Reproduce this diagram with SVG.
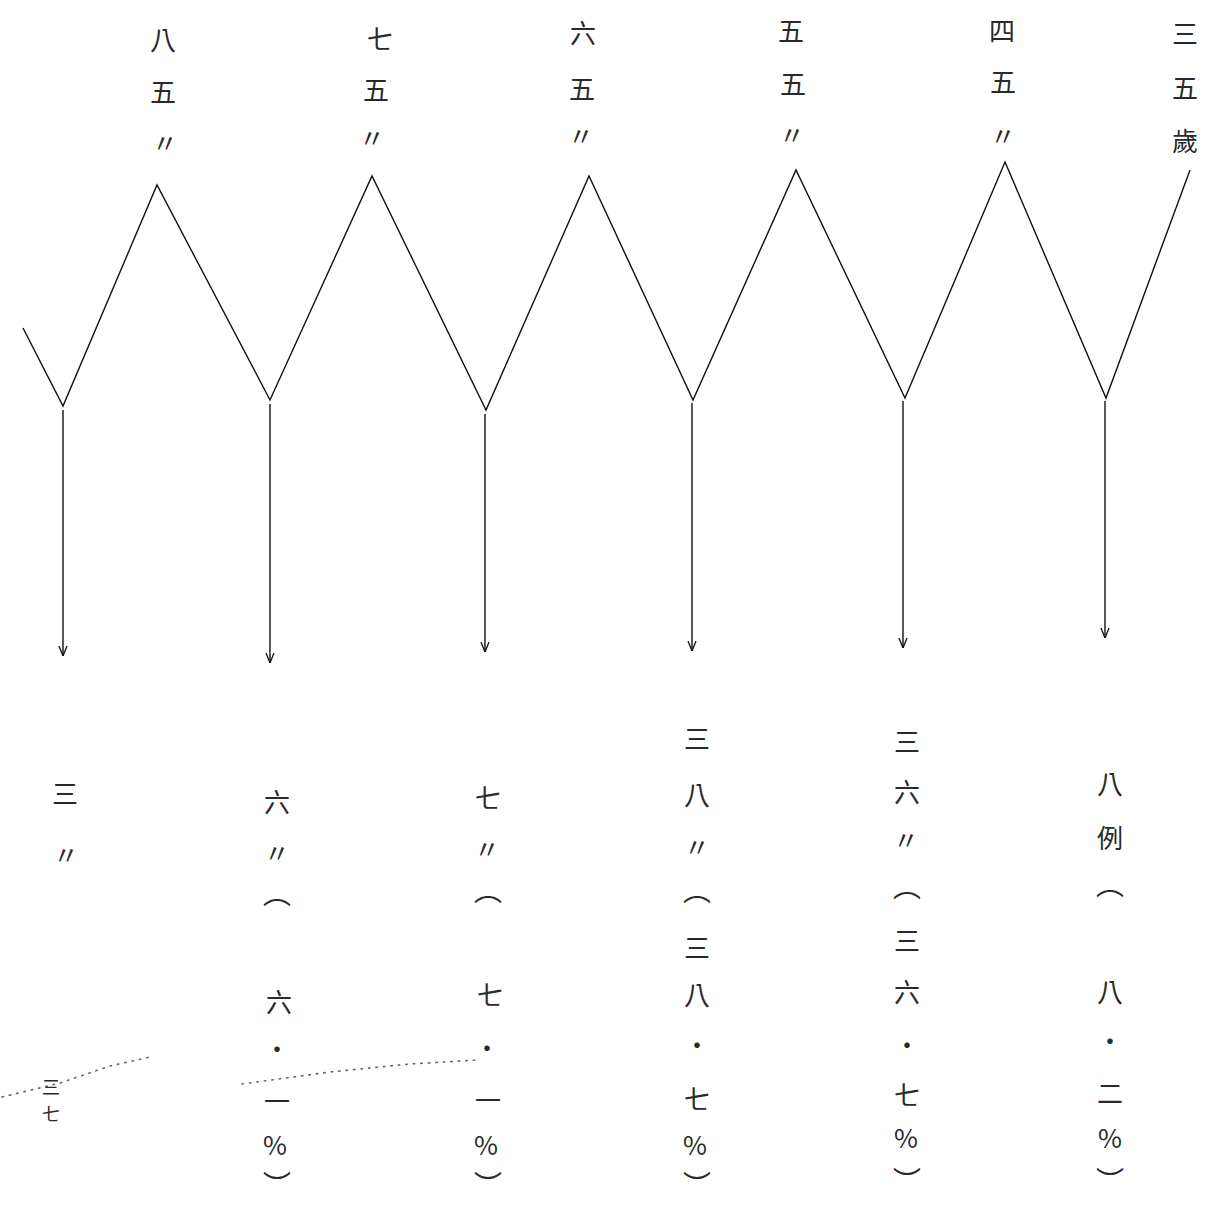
<svg xmlns="http://www.w3.org/2000/svg" width="1211" height="1208" viewBox="0 0 1211 1208">
<defs>
<style>
.c{font-family:"Noto Sans CJK TC","Noto Sans CJK SC",sans-serif;font-size:26px;fill:#2a2a2a;text-anchor:middle;dominant-baseline:central}
.s{font-size:18px}
.p{font-size:28px}
.ln{fill:none;stroke:#111;stroke-width:1.4;stroke-linejoin:miter}
.ar{fill:none;stroke:#111;stroke-width:1.4}
.dot{fill:none;stroke:#666;stroke-width:1.6;stroke-dasharray:1.5 6;stroke-linecap:round}
</style>
<marker id="ah" viewBox="0 0 10 10" refX="10" refY="5" markerWidth="10" markerHeight="10" markerUnits="userSpaceOnUse" orient="auto">
<path d="M0,1 L10,5 L0,9" fill="none" stroke="#111" stroke-width="1.3"/>
</marker>
</defs>
<rect width="1211" height="1208" fill="#fff"/>

<g id="connectors">
<polyline class="ln" points="23,328 63,406 157,185 270,400 372,176 486,410 589,176 693,400 796,170 905,398 1005,162 1106,398 1190,170"/>
<line class="ar" x1="63" y1="410" x2="63" y2="656" marker-end="url(#ah)"/>
<line class="ar" x1="270" y1="404" x2="270" y2="663" marker-end="url(#ah)"/>
<line class="ar" x1="485" y1="414" x2="485" y2="652" marker-end="url(#ah)"/>
<line class="ar" x1="692" y1="403" x2="692" y2="651" marker-end="url(#ah)"/>
<line class="ar" x1="903" y1="401" x2="903" y2="648" marker-end="url(#ah)"/>
<line class="ar" x1="1105" y1="401" x2="1105" y2="638" marker-end="url(#ah)"/>
</g>

<g id="artifact">
<polyline class="dot" points="2,1097 60,1083 110,1066 150,1057"/>
<polyline class="dot" points="242,1084 330,1072 410,1064 478,1060"/>
</g>

<g id="top-85"><text class="c"><tspan x="163" y="38">八</tspan><tspan x="163" y="90">五</tspan><tspan x="165" y="141">〃</tspan></text></g>
<g id="top-75"><text class="c"><tspan x="380" y="37">七</tspan><tspan x="376" y="88">五</tspan><tspan x="372" y="136">〃</tspan></text></g>
<g id="top-65"><text class="c"><tspan x="583" y="31">六</tspan><tspan x="582" y="87">五</tspan><tspan x="581" y="134">〃</tspan></text></g>
<g id="top-55"><text class="c"><tspan x="791" y="29">五</tspan><tspan x="793" y="82">五</tspan><tspan x="792" y="133">〃</tspan></text></g>
<g id="top-45"><text class="c"><tspan x="1002" y="29">四</tspan><tspan x="1003" y="80">五</tspan><tspan x="1003" y="134">〃</tspan></text></g>
<g id="top-35"><text class="c"><tspan x="1185" y="32">三</tspan><tspan x="1185" y="86">五</tspan><tspan x="1185" y="139">歲</tspan></text></g>

<g id="bot-1"><text class="c"><tspan x="65" y="792">三</tspan><tspan x="66" y="853">〃</tspan></text>
<text class="c s"><tspan x="51" y="1086">三</tspan><tspan x="51" y="1113">七</tspan></text></g>
<g id="bot-2"><text class="c"><tspan x="277" y="800">六</tspan><tspan x="277" y="851">〃</tspan><tspan x="279" y="1000">六</tspan><tspan x="277" y="1047">・</tspan><tspan x="277" y="1099">一</tspan><tspan x="275" y="1143">%</tspan></text>
<text class="c p"><tspan x="277" y="892">︵</tspan><tspan x="277" y="1184">︶</tspan></text></g>
<g id="bot-3"><text class="c"><tspan x="488" y="796">七</tspan><tspan x="487" y="847">〃</tspan><tspan x="490" y="993">七</tspan><tspan x="487" y="1046">・</tspan><tspan x="488" y="1098">一</tspan><tspan x="486" y="1143">%</tspan></text>
<text class="c p"><tspan x="488" y="889">︵</tspan><tspan x="488" y="1184">︶</tspan></text></g>
<g id="bot-4"><text class="c"><tspan x="697" y="737">三</tspan><tspan x="697" y="793">八</tspan><tspan x="697" y="845">〃</tspan><tspan x="697" y="946">三</tspan><tspan x="697" y="993">八</tspan><tspan x="697" y="1043">・</tspan><tspan x="697" y="1097">七</tspan><tspan x="695" y="1143">%</tspan></text>
<text class="c p"><tspan x="697" y="889">︵</tspan><tspan x="697" y="1184">︶</tspan></text></g>
<g id="bot-5"><text class="c"><tspan x="907" y="740">三</tspan><tspan x="907" y="790">六</tspan><tspan x="906" y="838">〃</tspan><tspan x="907" y="939">三</tspan><tspan x="907" y="990">六</tspan><tspan x="907" y="1043">・</tspan><tspan x="907" y="1093">七</tspan><tspan x="906" y="1136">%</tspan></text>
<text class="c p"><tspan x="907" y="885">︵</tspan><tspan x="907" y="1180">︶</tspan></text></g>
<g id="bot-6"><text class="c"><tspan x="1110" y="782">八</tspan><tspan x="1110" y="836">例</tspan><tspan x="1110" y="990">八</tspan><tspan x="1110" y="1039">・</tspan><tspan x="1110" y="1091">二</tspan><tspan x="1110" y="1136">%</tspan></text>
<text class="c p"><tspan x="1110" y="883">︵</tspan><tspan x="1110" y="1180">︶</tspan></text></g>
</svg>
